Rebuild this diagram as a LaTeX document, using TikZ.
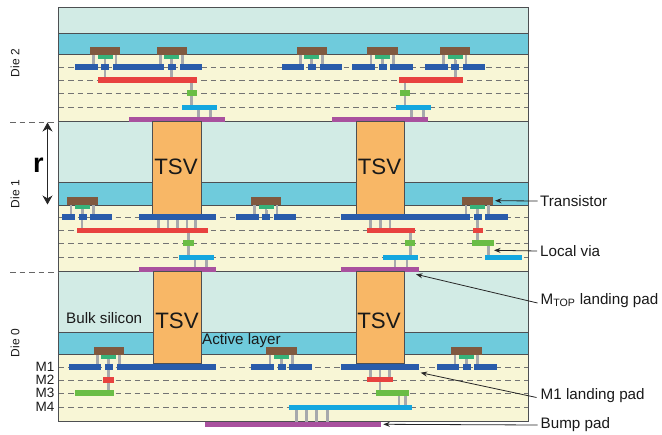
\documentclass[tikz,border=0pt]{standalone}
\usepackage{fontspec}
\setmainfont{Liberation Sans}
\usetikzlibrary{arrows.meta}
\definecolor{bulk}{HTML}{D2EBE5}
\definecolor{active}{HTML}{6FCBDC}
\definecolor{beol}{HTML}{F8F6D6}
\definecolor{gatebrown}{HTML}{80593F}
\definecolor{gategreen}{HTML}{36B37A}
\definecolor{mblue}{HTML}{2A5CAA}
\definecolor{mred}{HTML}{E8423F}
\definecolor{mgreen}{HTML}{6ABD45}
\definecolor{mcyan}{HTML}{14A7DF}
\definecolor{mpurple}{HTML}{A9519E}
\definecolor{tsvfill}{HTML}{F8B766}
\definecolor{viagray}{HTML}{A7A9AC}
\definecolor{edgegray}{HTML}{4D4F52}
\tikzset{
  lab/.style={inner sep=0pt,font=\fontsize{15.2}{16}\selectfont,text=black!90},
  mlab/.style={inner sep=0pt,anchor=east,font=\fontsize{13.5}{14}\selectfont,text=black!90},
  dielab/.style={inner sep=0pt,rotate=90,font=\fontsize{12}{13}\selectfont,text=black!90},
  tsvlab/.style={inner sep=0pt,font=\fontsize{22.3}{24}\selectfont,text=black!90},
  ptr/.style={-{Stealth[length=6.5pt,width=5pt]},line width=0.8pt,draw=black!85},
  layerline/.style={draw=edgegray,line width=1pt},
  metalline/.style={draw=black!55,line width=0.7pt,dash pattern=on 5.5pt off 4pt},
  tsvbox/.style={draw=edgegray,line width=1pt,fill=tsvfill},
}
\newcommand{\Rc}[5]{\fill[#5] (#1,#2) rectangle (#3,#4);}
% via: x, y from, y to
\newcommand{\Va}[3]{\fill[viagray] ({#1-1.3},#2) rectangle ({#1+1.3},#3);}
% transistor: x, interface y, left metal start, right metal end
\newcommand{\Trn}[4]{%
  \pgfmathsetmacro{\ya}{#2+9}\pgfmathsetmacro{\yb}{#2+14.7}%
  \Va{#1+3.5}{#2}{\ya}\Va{#1+26}{#2}{\ya}\Va{#1+15}{#2}{\ya}%
  \fill[gatebrown] (#1,#2-8.2) rectangle (#1+30.3,#2);
  \fill[gategreen] (#1+7.5,#2) rectangle (#1+22.5,#2+4);
  \fill[mblue] (#3,\ya) rectangle (#1+7.5,\yb);
  \fill[mblue] (#1+11.4,\ya) rectangle (#1+19.3,\yb);
  \fill[mblue] (#1+23,\ya) rectangle (#4,\yb);}
\begin{document}
\begin{tikzpicture}[x=1pt,y=-1pt]
\useasboundingbox (0,0) rectangle (662,435);
% layers
\Rc{58.5}{8}{528}{34}{bulk}
\Rc{58.5}{34}{528}{55}{active}
\Rc{58.5}{55}{528}{122}{beol}
\Rc{58.5}{122}{528}{183}{bulk}
\Rc{58.5}{183}{528}{205.5}{active}
\Rc{58.5}{205.5}{528}{272}{beol}
\Rc{58.5}{272}{528}{333}{bulk}
\Rc{58.5}{333}{528}{355}{active}
\Rc{58.5}{355}{528}{422}{beol}
% metal level lines
\foreach \y in {67,80,93.5,107.5,217,230,243,257,367,380,393,407}
  \draw[metalline] (58.5,\y) -- (528,\y);
% layer boundaries
\foreach \y in {34,55,122,183,205.5,272,333,355}
  \draw[layerline] (58.5,\y) -- (528,\y);
\draw[draw=edgegray,line width=1pt] (58.5,8) rectangle (528,422);
\draw[metalline,draw=black!60] (10,122) -- (58.5,122);
\draw[metalline,draw=black!60] (10,272) -- (58.5,272);

% ---- Die 2
\Va{105}{60}{80}\Va{171.7}{60}{80}\Va{455.3}{60}{80}
\Va{191.7}{80}{110}\Va{405}{80}{110}
\Va{198.3}{108}{119}\Va{210.3}{108}{119}\Va{411.3}{108}{119}\Va{423.3}{108}{119}
\Trn{90}{55}{75}{162.7}
\Trn{156.7}{55}{141.7}{201.7}
\Trn{296.7}{55}{281.7}{341.7}
\Trn{367.3}{55}{352.3}{412.7}
\Trn{440}{55}{425}{485.3}
\Rc{98.3}{77.5}{196.7}{83.5}{mred}
\Rc{399.3}{77.5}{463.3}{83.5}{mred}
\Rc{187}{90.5}{197}{96}{mgreen}
\Rc{400.3}{90.5}{410}{96}{mgreen}
\Rc{182}{105}{217}{110.5}{mcyan}
\Rc{395.7}{105}{430.7}{110.5}{mcyan}
\Rc{128.7}{117}{225}{122.5}{mpurple}
\Rc{332}{117}{428.3}{122.5}{mpurple}

% ---- Die 1
\Va{82}{210}{230}\Va{266.3}{210}{217}
\foreach \x in {158.3,168,177.3,187,195.7,370.7,380.3,390} {\Va{\x}{218}{229}}
\Va{188.3}{232}{256}\Va{410.3}{232}{256}
\Va{195}{259}{268}\Va{206.7}{259}{268}\Va{395}{259}{268}\Va{407}{259}{268}
\Va{477.3}{209}{241}\Va{488.7}{244}{256}
\Trn{67.3}{205.5}{62.3}{111.7}
\Trn{251}{205.5}{236}{296.3}
\Trn{462.3}{205.5}{341}{507.7}
\draw[tsvbox] (152.7,122) rectangle (201,214.5);
\draw[tsvbox] (356,122) rectangle (404.3,214.5);
\Rc{138.7}{214.3}{216.3}{219.7}{mblue}
\Rc{341}{214.3}{469.7}{219.7}{mblue}
\Rc{77}{228}{208.3}{233.2}{mred}
\Rc{367}{228}{415.3}{233.2}{mred}
\Rc{472.7}{228}{482.7}{233.2}{mred}
\Rc{183.3}{240.5}{193.7}{246}{mgreen}
\Rc{405.3}{240.5}{415.3}{246}{mgreen}
\Rc{471.7}{240.5}{494}{246}{mgreen}
\Rc{179}{254.7}{213.7}{260}{mcyan}
\Rc{383}{254.7}{418}{260}{mcyan}
\Rc{485.3}{254.7}{522.3}{260}{mcyan}
\Rc{138.7}{267}{216.3}{272.5}{mpurple}
\Rc{341}{267}{419}{272.5}{mpurple}

% ---- Die 0
\Va{108.7}{360}{392}\Va{281.7}{360}{367}
\foreach \x in {370.3,380,389.3} {\Va{\x}{368}{378}}
\Va{380}{382}{391}\Va{399}{395}{405}\Va{405.3}{395}{405}
\foreach \x in {296.7,306.3,316.5,327.3} {\Va{\x}{409}{422}}
\Trn{93.7}{355}{69.3}{216.3}
\Trn{266.3}{355}{251.3}{311.7}
\Trn{451.3}{355}{436.7}{496.7}
\draw[tsvbox] (153.3,272) rectangle (201,364);
\draw[tsvbox] (356,272) rectangle (404.3,364);
\Rc{341}{364.3}{419}{369.7}{mblue}
\Rc{103.3}{377}{114}{383}{mred}
\Rc{367}{377}{393.3}{382.5}{mred}
\Rc{74.7}{390}{114}{395.7}{mgreen}
\Rc{375.7}{390}{409}{395.7}{mgreen}
\Rc{289}{404.7}{412}{410}{mcyan}
\Rc{205.3}{421.7}{381.3}{427.5}{mpurple}

% ---- labels
\node[tsvlab] (tsv1) at (176,167) {TSV};
\node[tsvlab] (tsv2) at (379.5,167) {TSV};
\node[tsvlab] (tsv3) at (177,320.5) {TSV};
\node[tsvlab] (tsv4) at (379,320.5) {TSV};
\node[lab,anchor=west] (bulk) at (66,318) {Bulk silicon};
\node[lab,anchor=west] (act) at (202,341) {Active layer};
\node[dielab] (d2) at (15,63) {Die 2};
\node[dielab] (d1) at (15,194) {Die 1};
\node[dielab] (d0) at (15,343) {Die 0};
\node[mlab] (m1) at (54.5,366.5) {M1};
\node[mlab] (m2) at (54.5,380) {M2};
\node[mlab] (m3) at (54.5,393) {M3};
\node[mlab] (m4) at (54.5,407) {M4};
\node[inner sep=0pt,font=\bfseries\fontsize{27}{28}\selectfont] (rl) at (38.5,165) {r};
% r arrow
\coordinate (rtop) at (47.5,122.5);
\coordinate (rbot) at (47.5,204.5);
\draw[{Stealth[length=9pt,width=10pt]}-{Stealth[length=9pt,width=10pt]},line width=0.8pt,draw=black!85] (rtop) -- (rbot);
% callouts
\node[lab,anchor=west] (ltr) at (540,201) {Transistor};
\node[lab,anchor=west] (llv) at (540,251) {Local via};
\node[lab,anchor=west] (lmt) at (540.5,300.5) {M\textsubscript{TOP} landing pad};
\node[lab,anchor=west] (lm1) at (540.5,395.5) {M1 landing pad};
\node[lab,anchor=west] (lbp) at (540.5,425) {Bump pad};
\coordinate (ctr) at (495,200.7);
\coordinate (clv) at (494,250.3);
\coordinate (cmt) at (416,274.3);
\coordinate (cm1) at (420.7,372.7);
\coordinate (cbp) at (383.3,424.3);
\draw[ptr] ([xshift=-2.5pt]ltr.west) -- (ctr);
\draw[ptr] ([xshift=-3pt]llv.west) -- (clv);
\draw[ptr] ([xshift=-3pt,yshift=-2.5pt]lmt.west) -- (cmt);
\draw[ptr] ([xshift=-4pt,yshift=-2pt]lm1.west) -- (cm1);
\draw[ptr] ([xshift=-3pt]lbp.west) -- (cbp);
\end{tikzpicture}
\end{document}
